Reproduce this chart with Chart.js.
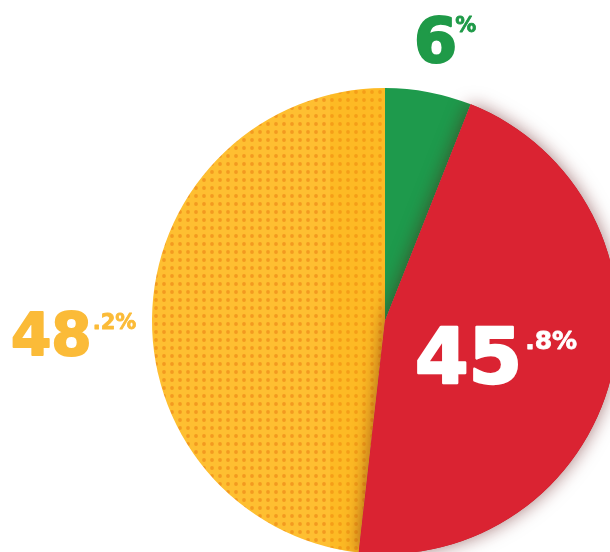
<!DOCTYPE html>
<html>
<head>
<meta charset="utf-8">
<script src="https://cdn.jsdelivr.net/npm/chart.js@4/dist/chart.umd.min.js"></script>
<style>
  html, body { margin: 0; padding: 0; background: #fff; overflow: hidden; }
  #wrap { width: 620px; height: 560px; }
</style>
</head>
<body>
<div id="wrap"><canvas id="pie" width="620" height="560"></canvas></div>
<script>
// data, drawn clockwise starting from the yellow slice
var categories = ['Yellow', 'Green', 'Red'];
var shares = [48.2, 6, 45.8];
var sliceColors = ['#FDBD30', '#1E9A4C', '#DA2332'];
var labelColors = ['#FBBB38', '#1F9A48', '#FFFFFF'];

// halftone dots for the yellow slice
function dotPattern(base, dot) {
    var c = document.createElement('canvas');
    c.width = 8; c.height = 8;
    var g = c.getContext('2d');
    g.fillStyle = base;
    g.fillRect(0, 0, 8, 8);
    g.fillStyle = dot;
    g.beginPath();
    g.arc(4, 4, 1.9, 0, Math.PI * 2);
    g.fill();
    return g.createPattern(c, 'repeat');
}

var ctx = document.getElementById('pie').getContext('2d');
var bgColors = sliceColors.slice();
bgColors[0] = dotPattern('#FEBF31', '#F39A20');

// red slice raised with a soft shadow, plus the labels
var extras = {
    id: 'extras',
    afterDatasetsDraw: function(chart) {
        var c = chart.ctx;
        var arcs = chart.getDatasetMeta(0).data;

        // slightly deeper tone on the inner part of the yellow slice
        var y0 = arcs[0];
        c.save();
        c.beginPath();
        c.moveTo(y0.x, y0.y);
        c.arc(y0.x, y0.y, y0.outerRadius, y0.startAngle, y0.endAngle);
        c.closePath();
        c.clip();
        c.fillStyle = 'rgba(250,170,0,0.25)';
        c.fillRect(y0.x - 55, 0, 55, chart.height);
        c.restore();

        c.save();
        c.shadowColor = 'rgba(90,10,10,0.55)';
        c.shadowBlur = 18;
        arcs[2].draw(c);
        c.restore();

        function split(v) {
            var s = String(v).split('.');
            return { big: s[0], small: (s[1] ? '.' + s[1] : '') + '%' };
        }
        function label(i, x, y, bigSize, smallSize, smallDy, gap) {
            var p = split(shares[i]);
            c.save();
            c.fillStyle = labelColors[i];
            c.strokeStyle = labelColors[i];
            c.lineJoin = 'round';
            c.textBaseline = 'alphabetic';
            c.textAlign = 'left';
            c.font = 'bold ' + bigSize + 'px "DejaVu Sans"';
            c.lineWidth = bigSize / 30;
            c.fillText(p.big, x, y);
            c.strokeText(p.big, x, y);
            var w = c.measureText(p.big).width;
            c.font = 'bold ' + smallSize + 'px "DejaVu Sans"';
            c.lineWidth = 0.8;
            c.fillText(p.small, x + w + gap, y + smallDy);
            c.strokeText(p.small, x + w + gap, y + smallDy);
            c.restore();
        }
        label(1, 414, 62, 62, 21, -30, -2);
        label(0, 11, 355, 58, 21, -26, 1);
        label(2, 415, 383, 77, 25, -34, 3);
    }
};

new Chart(ctx, {
    type: 'pie',
    data: {
        labels: categories,
        datasets: [{
            data: shares,
            backgroundColor: bgColors,
            borderWidth: 0,
            hoverOffset: 0
        }]
    },
    plugins: [extras],
    options: {
        responsive: false,
        animation: false,
        rotation: 360 - shares[0] * 3.6,
        layout: { padding: { left: 152, top: 88, right: 2, bottom: 6 } },
        plugins: {
            legend: { display: false },
            tooltip: { enabled: false }
        }
    }
});
</script>
</body>
</html>
